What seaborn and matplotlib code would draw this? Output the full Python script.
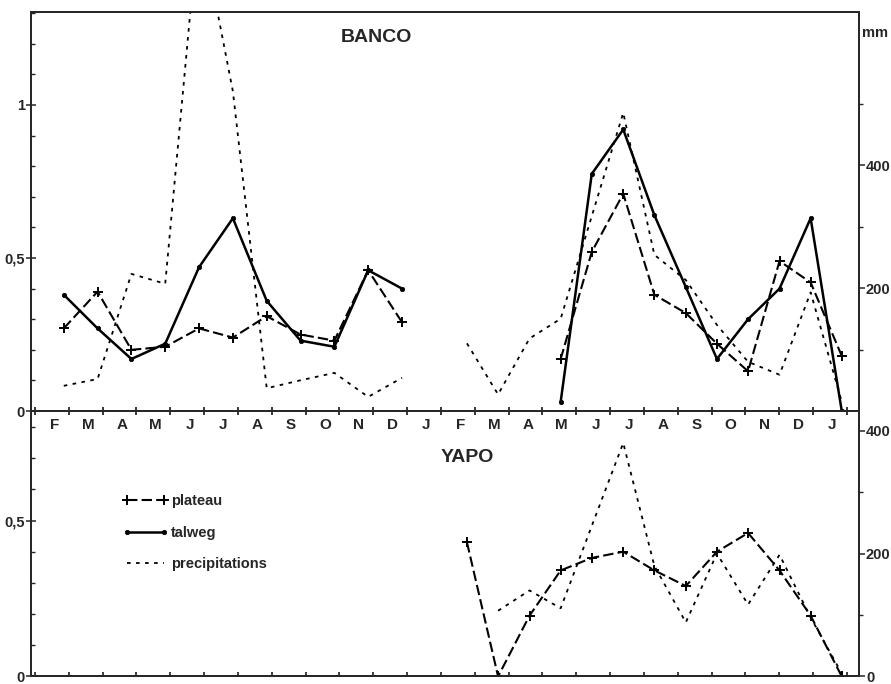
import numpy as np
import matplotlib
matplotlib.use("Agg")
import matplotlib.pyplot as plt
from matplotlib.lines import Line2D
from matplotlib.ticker import MultipleLocator, FixedLocator
import seaborn as sns

# =============================
# Données
# =============================
mois = ["F", "M", "A", "M", "J", "J", "A", "S", "O", "N", "D", "J",
        "F", "M", "A", "M", "J", "J", "A", "S", "O", "N", "D", "J"]

# BANCO, première année (F -> D), position en mois sur l'axe
x_an1 = [0.85, 1.85, 2.85, 3.85, 4.85, 5.85, 6.85, 7.85, 8.85, 9.85, 10.85]
banco_plateau_1 = [0.27, 0.39, 0.20, 0.21, 0.27, 0.24, 0.31, 0.25, 0.23, 0.46, 0.29]
banco_talweg_1 = [0.38, 0.27, 0.17, 0.22, 0.47, 0.63, 0.36, 0.23, 0.21, 0.46, 0.40]
banco_precip_1 = [41, 52, 223, 207, 803, 520, 37, 50, 62, 23, 54]  # mm

# deuxième année : 13 relevés
x_an2 = [12.77, 13.69, 14.62, 15.54, 16.46, 17.39, 18.31,
         19.24, 20.16, 21.08, 22.01, 22.93, 23.85]
banco_precip_2 = [110, 27, 118, 150, 317, 485, 254, 213, 140, 80, 59, 193, 15]
# plateau / talweg à partir du 4e relevé (x_an2[3:])
banco_plateau_2 = [0.17, 0.52, 0.71, 0.38, 0.32, 0.22, 0.13, 0.49, 0.42, 0.18]
banco_talweg_2 = [0.03, 0.775, 0.92, 0.64, 0.405, 0.17, 0.30, 0.40, 0.63, 0.0]

# YAPO
yapo_plateau = [0.43, 0.0, 0.195, 0.34, 0.38, 0.40, 0.34, 0.29, 0.40, 0.46, 0.34, 0.195, 0.0]
yapo_precip = [107, 140, 111, 245, 380, 180, 88, 200, 117, 198, 96, 5]  # x_an2[1:]

# =============================
# Style
# =============================
sns.set_theme(style="ticks")
plt.rcParams["font.family"] = ["Liberation Sans", "DejaVu Sans"]
plt.rcParams["font.weight"] = "bold"
plt.rcParams["axes.linewidth"] = 1.3

st_plateau = dict(linestyle=(0, (5, 2)), linewidth=1.5, marker="+", markersize=7,
                  markeredgewidth=1.4, markeredgecolor="black")
st_talweg = dict(linestyle="-", linewidth=1.8, marker="o", markersize=3.2,
                 markeredgewidth=0.5, markeredgecolor="black")
st_precip = dict(linestyle=(0, (2, 3)), linewidth=1.3)


def trace(ax, x, y, style):
    sns.lineplot(x=x, y=y, ax=ax, color="black", sort=False, estimator=None, **style)
    ax.set_xlabel("")
    ax.set_ylabel("")


fig = plt.figure(figsize=(8.91, 6.84), dpi=100)
ax1 = fig.add_axes([0.0348, 0.3991, 0.9293, 0.5834])
ax2 = fig.add_axes([0.0348, 0.0110, 0.9293, 0.3881])
ax2.patch.set_visible(False)
ax1r = ax1.twinx()
ax2r = ax2.twinx()

# BANCO
trace(ax1, x_an1, banco_plateau_1, st_plateau)
trace(ax1, x_an1, banco_talweg_1, st_talweg)
trace(ax1, x_an2[3:], banco_plateau_2, st_plateau)
trace(ax1, x_an2[3:], banco_talweg_2, st_talweg)
trace(ax1r, x_an1, banco_precip_1, st_precip)
trace(ax1r, x_an2, banco_precip_2, st_precip)

# YAPO
trace(ax2, x_an2, yapo_plateau, st_plateau)
trace(ax2r, x_an2[1:], yapo_precip, st_precip)

# =============================
# Axes
# =============================
for ax in (ax1, ax2, ax1r, ax2r):
    ax.set_xlim(-0.118, 24.36)

ax1.set_ylim(0, 1.304)
ax1r.set_ylim(0, 649)
ax2.set_ylim(0, 0.851)
ax2r.set_ylim(0, 432)

# mois sous l'axe du haut
ax1.set_xticks(np.arange(25))
ax1.set_xticks(np.arange(24) + 0.57, minor=True)
ax1.set_xticklabels(mois, minor=True)
ax1.tick_params(axis="x", which="major", direction="inout", length=6, width=1.1,
                labelbottom=False, color="black")
ax1.tick_params(axis="x", which="minor", length=0, pad=5, labelsize=11)

ax2.set_xticks(np.arange(25))
ax2.tick_params(axis="x", which="major", direction="in", length=3, labelbottom=False)

ax1.set_yticks([0, 0.5, 1])
ax1.set_yticklabels(["0", "0,5", "1"])
ax1.yaxis.set_minor_locator(MultipleLocator(0.1))
ax2.set_yticks([0, 0.5])
ax2.set_yticklabels(["0", "0,5"])
ax2.yaxis.set_minor_locator(MultipleLocator(0.1))
for ax in (ax1, ax2):
    ax.tick_params(axis="y", which="major", direction="inout", length=7, width=1.1,
                   labelsize=10.5, pad=1)
    ax.tick_params(axis="y", which="minor", direction="in", length=3, width=1)

ax1r.set_yticks([200, 400])
ax1r.yaxis.set_minor_locator(FixedLocator([100, 300, 500]))
ax2r.set_yticks([0, 200, 400])
ax2r.yaxis.set_minor_locator(FixedLocator([100, 300]))
for ax in (ax1r, ax2r):
    ax.tick_params(axis="y", which="major", direction="out", length=4, width=1.1,
                   labelsize=10.5, pad=1)
    ax.tick_params(axis="y", which="minor", direction="out", length=3, width=1)

ax2.spines["top"].set_visible(False)
ax2r.spines["top"].set_visible(False)

ax1.text(0.417, 0.937, "BANCO", transform=ax1.transAxes, ha="center", va="center",
         fontsize=14, fontweight="bold")
ax2.text(0.527, 0.825, "YAPO", transform=ax2.transAxes, ha="center", va="center",
         fontsize=14, fontweight="bold")
ax1.text(1.004, 0.947, "mm", transform=ax1.transAxes, ha="left", va="center",
         fontsize=10.5, fontweight="bold")

# légende
handles = [
    Line2D([], [], color="black", **st_plateau),
    Line2D([], [], color="black", **st_talweg),
    Line2D([], [], color="black", **st_precip),
]
ax2.legend(handles, ["plateau", "talweg", "precipitations"], loc="upper left",
           bbox_to_anchor=(0.095, 0.735), frameon=False, handlelength=3.1,
           handletextpad=0.2, labelspacing=1.2, numpoints=2,
           prop=dict(weight="bold", size=10.5))

fig.savefig("out.png", dpi=100)
